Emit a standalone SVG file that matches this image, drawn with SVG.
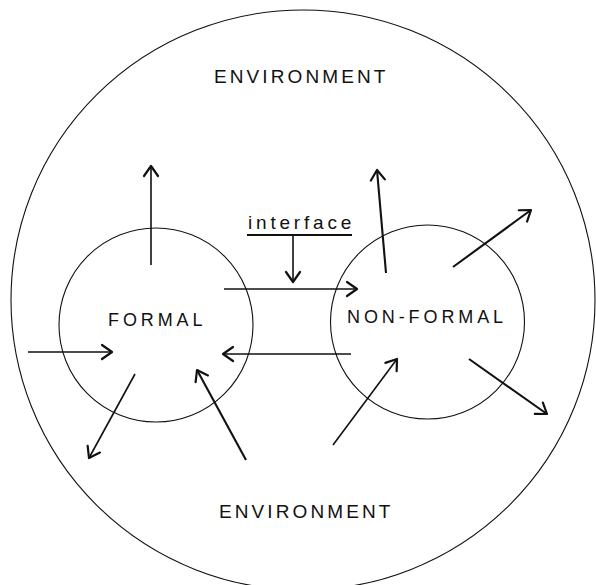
<svg xmlns="http://www.w3.org/2000/svg" width="596" height="585" viewBox="0 0 596 585">
<style>
.c{fill:none;stroke:#111;stroke-width:1.1}
.t{font-family:"Liberation Sans",Arial,sans-serif;fill:#111;font-size:18px;letter-spacing:3.9px}
.a{fill:none;stroke:#111;stroke-width:1.6;marker-end:url(#ah)}
.b{fill:none;stroke:#111;stroke-width:2.1;marker-end:url(#ah)}
</style>
<defs>
<marker id="ah" markerUnits="userSpaceOnUse" markerWidth="16" markerHeight="18" viewBox="-13 -9 16 18" refX="0" refY="0" orient="auto" overflow="visible">
<path d="M-10,-7 L0,0 L-10,7" fill="none" stroke="#111" stroke-width="2.2" stroke-linejoin="round" stroke-linecap="round"/>
</marker>
</defs>
<rect width="596" height="585" fill="#fff"/>
<g id="environment">
<ellipse class="c" cx="303" cy="300" rx="292" ry="290"/>
<text class="t" x="214" y="83" style="font-size:19px;letter-spacing:3.1px">ENVIRONMENT</text>
<text class="t" x="219" y="518" style="font-size:19px;letter-spacing:3.1px">ENVIRONMENT</text>
</g>
<g id="formal">
<circle class="c" cx="156" cy="325" r="97"/>
<text class="t" x="108" y="326">FORMAL</text>
</g>
<g id="nonformal">
<circle class="c" cx="427.5" cy="322" r="97"/>
<text class="t" x="347" y="323">NON-FORMAL</text>
</g>
<g id="interface">
<text class="t" x="248" y="229" style="font-size:19px;letter-spacing:3.8px">interface</text>
<line x1="247" y1="235" x2="352" y2="235" stroke="#111" stroke-width="2"/>
</g>
<g id="connectors">
<line class="a" x1="151" y1="265" x2="151" y2="166"/>
<line class="a" x1="224" y1="289" x2="357" y2="289"/>
<line class="a" x1="293" y1="235" x2="293" y2="282"/>
<line class="a" x1="351" y1="354" x2="223" y2="354"/>
<line class="a" x1="28" y1="352" x2="112" y2="352"/>
<line class="a" x1="135" y1="374" x2="89" y2="458"/>
<line class="b" x1="246" y1="460" x2="197" y2="370"/>
<line class="b" x1="386" y1="273" x2="377" y2="170"/>
<line class="b" x1="453" y1="267" x2="531" y2="210"/>
<line class="b" x1="469" y1="359" x2="547" y2="414"/>
<line class="a" x1="333" y1="445" x2="397" y2="359"/>
</g>
</svg>
